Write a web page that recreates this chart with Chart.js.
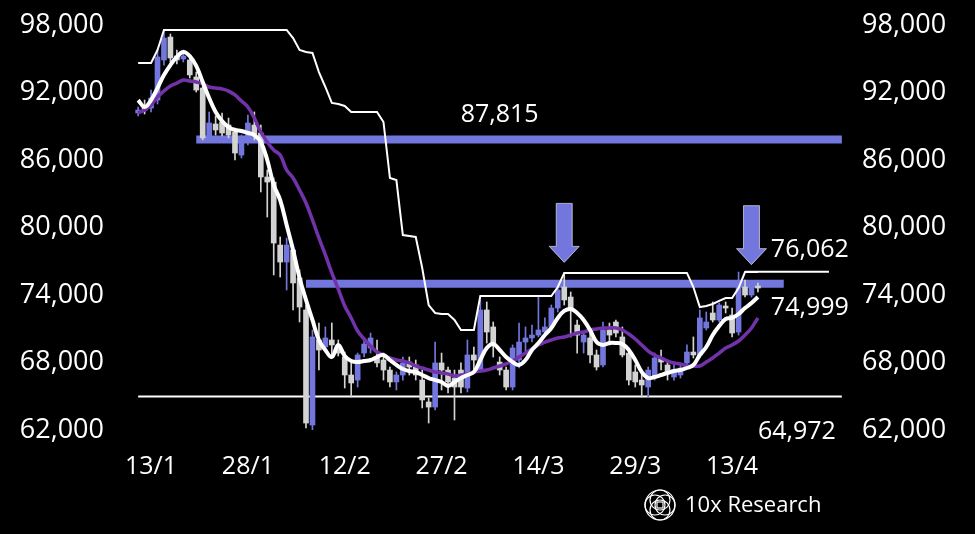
<!DOCTYPE html>
<html>
<head>
<meta charset="utf-8">
<script src="https://cdn.jsdelivr.net/npm/chart.js@4.4.0/dist/chart.umd.min.js"></script>
<style>
  html, body { margin: 0; padding: 0; background: #000; }
  canvas { display: block; }
</style>
</head>
<body>
<canvas id="leGraphique" width="975" height="534"></canvas>
<script>
// daily candles, 11/1 -> 17/4
const firstDay = Date.UTC(2025, 0, 11);
const dayCount = 97;
const padBefore = 2, padAfter = 15;   // empty days on each side of the candles
const tickLabels = ["13/1", "28/1", "12/2", "27/2", "14/3", "29/3", "13/4"];

const open = [90180, 90800, 90620, 91330, 94890, 96930, 95240, 94980, 94890, 93380,
  92400, 87960, 89200, 89380, 89110, 88490, 86440, 87780, 89110, 88400,
  84490, 84040, 78440, 76930, 78000, 75510, 72670, 62440, 70000, 69380,
  70000, 69380, 68490, 66890, 66440, 68840, 69290, 68490, 68220, 67330,
  66270, 66890, 68040, 67780, 66440, 64490, 64040, 67960, 67330, 66620,
  67330, 65730, 68670, 67330, 72670, 71160, 68040, 67330, 65820, 68220,
  69820, 70180, 70440, 70710, 71160, 72840, 74710, 73820, 71330, 69820,
  70180, 68670, 67780, 70890, 71600, 70270, 68840, 67160, 66440, 65820,
  66710, 68400, 67780, 66710, 66890, 67960, 68930, 68670, 71070, 72400,
  71780, 72930, 72220, 70710, 74710, 74000, 74710];
const close = [90440, 90440, 91510, 95160, 96840, 95070, 94890, 95240, 93560, 92220,
  87960, 89290, 88670, 88400, 88220, 86620, 87780, 89290, 88220, 84490,
  84040, 78620, 76930, 78440, 75070, 72930, 62620, 70270, 69110, 70180,
  69560, 68840, 66890, 66180, 68670, 69640, 70180, 67960, 67330, 66270,
  66890, 67960, 67600, 66890, 64670, 64040, 67960, 67330, 66270, 65820,
  65820, 68670, 68220, 72670, 70710, 69730, 67330, 65820, 69290, 69820,
  70180, 70440, 70890, 71160, 72840, 74440, 73560, 72840, 70440, 70440,
  68670, 67600, 70890, 70440, 70620, 68670, 66440, 66270, 66000, 67330,
  68400, 68040, 67070, 67330, 67510, 68930, 68670, 71960, 71600, 71780,
  73110, 72840, 70620, 75070, 74000, 74710, 74620];
const high = [90710, 91330, 92220, 95780, 97560, 97200, 95780, 95780, 95240, 93820,
  92670, 90270, 89910, 90180, 89730, 88840, 88220, 90000, 90270, 89110,
  85110, 84400, 79160, 79070, 78440, 76220, 73110, 70890, 71510, 71160,
  71510, 70000, 68930, 67960, 68840, 70000, 70620, 70000, 68840, 67600,
  67160, 68490, 68490, 68220, 67330, 64840, 69820, 68840, 67600, 67330,
  67960, 70000, 69380, 73560, 73380, 71600, 68490, 67600, 69560, 71510,
  71160, 71330, 73820, 71960, 73110, 74710, 75960, 74270, 71780, 70710,
  70620, 69110, 71600, 71510, 71780, 71160, 69110, 67780, 67330, 67600,
  68840, 69110, 68220, 67960, 67780, 69560, 70270, 72670, 72490, 73380,
  73290, 73380, 72840, 76040, 75330, 75070, 75070];
const low = [89910, 90090, 90270, 90980, 94440, 94710, 94530, 94710, 93290, 92040,
  87780, 87780, 88220, 88130, 87960, 86000, 86180, 87330, 87780, 83160,
  80930, 75780, 75600, 74440, 72670, 71600, 62180, 62000, 67330, 68930,
  68490, 68580, 65730, 64930, 65820, 68490, 68840, 67600, 66440, 65820,
  65560, 66440, 66890, 66440, 63960, 62620, 63780, 65560, 65290, 62890,
  65290, 65380, 67330, 67160, 69730, 68490, 66890, 65560, 65560, 67510,
  68840, 69820, 70270, 70440, 70890, 72490, 73110, 70270, 68840, 68840,
  67960, 67330, 67600, 69560, 70270, 68490, 66000, 65820, 64930, 64930,
  66440, 67330, 66440, 66440, 66620, 67510, 68400, 68400, 70890, 71600,
  71600, 72400, 70270, 70440, 73820, 73820, 74270];

// fast average (white) and slow average (purple)
const fastAvg = [91330, 90710, 91330, 92400, 93560, 94440, 95160, 95600, 95240, 94360,
  92930, 91510, 90270, 89470, 88930, 88670, 88580, 88400, 88220, 87600,
  86000, 83780, 82440, 80220, 78000, 75510, 73560, 71780, 70000, 69110,
  68490, 69560, 68580, 68130, 68040, 68130, 68220, 68490, 68670, 68220,
  67780, 67420, 67240, 67160, 66890, 66620, 66440, 66270, 65910, 66270,
  66620, 66890, 67160, 68220, 69290, 69640, 69110, 68490, 68040, 67780,
  68220, 69110, 69730, 70440, 71070, 71960, 72580, 72760, 72400, 71780,
  70890, 69820, 69560, 69730, 69730, 69640, 69110, 68220, 67160, 66620,
  66710, 66890, 67070, 67240, 67330, 67510, 67780, 68670, 69380, 70440,
  71240, 71870, 71960, 72310, 72840, 73290, 73820];
const slowAvg = [90180, 90440, 90890, 91600, 92130, 92580, 92840, 93110, 93020, 92930,
  92760, 92490, 92400, 92310, 92130, 91780, 91240, 90710, 89730, 88490,
  87600, 86890, 86440, 85110, 84400, 83330, 82180, 80670, 79070, 77560,
  75960, 74530, 73020, 71960, 70800, 70090, 69470, 68930, 68670, 68400,
  68220, 68130, 67960, 67690, 67510, 67330, 67160, 67070, 66980, 66800,
  66890, 66980, 67160, 67240, 67330, 67510, 67690, 67870, 68130, 68490,
  68840, 69200, 69560, 69820, 70000, 70180, 70270, 70440, 70620, 70710,
  70890, 70980, 71070, 71070, 71070, 70890, 70530, 70090, 69560, 69020,
  68670, 68400, 68130, 67960, 67870, 67690, 67690, 67690, 68040, 68400,
  68840, 69290, 69560, 69910, 70440, 71070, 71960];
// rolling high (thin white)
const rollHigh = [94620, 94620, 94620, 95780, 97560, 97560, 97560, 97560, 97560, 97560,
  97560, 97560, 97560, 97560, 97560, 97560, 97560, 97560, 97560, 97560,
  97560, 97560, 97560, 97560, 96840, 95780, 95600, 95510, 93820, 92490,
  91070, 90980, 90800, 90270, 90270, 90270, 90270, 90270, 89380, 84400,
  84220, 79330, 79240, 79160, 76400, 73110, 72400, 72310, 72310, 71780,
  70890, 70890, 70890, 73910, 73910, 73910, 73910, 73910, 73910, 73910,
  73910, 73910, 73910, 73910, 73910, 74710, 75960, 75960, 75960, 75960,
  75960, 75960, 75960, 75960, 75960, 75960, 75960, 75960, 75960, 75960,
  75960, 75960, 75960, 75960, 75960, 75960, 74710, 72930, 73020, 73200,
  73470, 73730, 73730, 74620, 76040, 76040, 76040];

// horizontal levels
const levelValues = [87815, 74999, 64972, 76062];
const levelFrom = ["20/1", "6/2", "11/1", "15/4"];
const levelTo = ["30/4", "21/4", "30/4", "28/4"];

// down arrows
const arrowDates = ["18/3", "16/4"];
const arrowTips = [76900, 76700];

const blue = '#7377dd';
const grey = '#d3d3d3';
const purple = '#7233aa';
const font = '"Open Sans", "DejaVu Sans", sans-serif';

function dayLabel(offset) {
  const d = new Date(firstDay + offset * 86400000);
  return d.getUTCDate() + '/' + (d.getUTCMonth() + 1);
}
const dates = [];
for (let k = 0; k < dayCount; k++) dates.push(dayLabel(k));
const axisLabels = [];
for (let k = -padBefore; k < dayCount + padAfter; k++) axisLabels.push(dayLabel(k));

const candleColor = open.map((o, k) => close[k] >= o ? blue : grey);
const fmt = v => v.toLocaleString('en-US');

function levelLine(k, color, width, order) {
  return {
    type: 'line',
    data: [{x: levelFrom[k], y: levelValues[k]}, {x: levelTo[k], y: levelValues[k]}],
    borderColor: color, borderWidth: width, borderCapStyle: 'butt',
    pointRadius: 0, order: order
  };
}

// texts, arrows and the 10x logo
const notes = {
  id: 'notes',
  afterDatasetsDraw(chart) {
    const {ctx, scales: {x, y}} = chart;
    ctx.save();
    arrowDates.forEach((d, k) => {
      const px = x.getPixelForValue(axisLabels.indexOf(d));
      const py = y.getPixelForValue(arrowTips[k]);
      ctx.beginPath();
      ctx.moveTo(px, py);
      ctx.lineTo(px - 15, py - 16);
      ctx.lineTo(px - 8, py - 16);
      ctx.lineTo(px - 8, py - 59);
      ctx.lineTo(px + 8, py - 59);
      ctx.lineTo(px + 8, py - 16);
      ctx.lineTo(px + 15, py - 16);
      ctx.closePath();
      ctx.fillStyle = blue;
      ctx.fill();
      ctx.strokeStyle = 'rgba(255,255,255,0.6)';
      ctx.lineWidth = 1;
      ctx.stroke();
    });

    ctx.fillStyle = '#fff';
    ctx.font = '25px ' + font;
    ctx.textBaseline = 'middle';
    const spots = [
      {at: "8/3", dy: -25, align: 'center'},
      {at: "19/4", dy: 24, align: 'left'},
      {at: "17/4", dy: 35, align: 'left'},
      {at: "19/4", dy: -22, align: 'left'}
    ];
    spots.forEach((s, k) => {
      ctx.textAlign = s.align;
      ctx.fillText(fmt(levelValues[k]), x.getPixelForValue(axisLabels.indexOf(s.at)),
        y.getPixelForValue(levelValues[k]) + s.dy);
    });

    // watermark
    const cx = 660, cy = 505;
    ctx.strokeStyle = '#fff';
    ctx.lineWidth = 1.2;
    ctx.beginPath(); ctx.arc(cx, cy, 15, 0, Math.PI * 2); ctx.stroke();
    [[-5, 0], [5, 0], [0, -5], [0, 5]].forEach(([dx, dy]) => {
      ctx.beginPath(); ctx.arc(cx + dx, cy + dy, 10, 0, Math.PI * 2); ctx.stroke();
    });
    ctx.strokeRect(cx - 3, cy - 3, 6, 6);
    ctx.textAlign = 'left';
    ctx.font = '22px ' + font;
    ctx.fillText('10x Research', 685, cy + 1);
    ctx.restore();
  }
};

const ctx = document.getElementById('leGraphique');

const data = {
  labels: axisLabels,
  datasets: [
    levelLine(0, blue, 8, 10),
    levelLine(1, blue, 8, 10),
    levelLine(2, '#fff', 2, 10),
    levelLine(3, '#fff', 2, 3),
    {
      type: 'bar',
      data: dates.map((d, k) => ({x: d, y: [low[k], high[k]]})),
      backgroundColor: candleColor,
      barThickness: 1, grouped: false, order: 9
    },
    {
      type: 'bar',
      data: dates.map((d, k) => ({x: d, y: [open[k], close[k]]})),
      backgroundColor: candleColor,
      barThickness: 5, minBarLength: 2, grouped: false, order: 8
    },
    {
      type: 'line',
      data: dates.map((d, k) => ({x: d, y: slowAvg[k]})),
      borderColor: purple, borderWidth: 3.5, pointRadius: 0, tension: 0.4, order: 5
    },
    {
      type: 'line',
      data: dates.map((d, k) => ({x: d, y: fastAvg[k]})),
      borderColor: '#fff', borderWidth: 4, pointRadius: 0, tension: 0.4, order: 4
    },
    {
      type: 'line',
      data: dates.map((d, k) => ({x: d, y: rollHigh[k]})),
      borderColor: '#fff', borderWidth: 2, pointRadius: 0, tension: 0, order: 3
    }
  ]
};

const yTicks = (pad) => ({
  color: '#fff', padding: pad, stepSize: 6000,
  font: {family: font, size: 27},
  callback: v => fmt(v)
});
// fixed axis widths, no extra padding from the tick labels
const fitY = w => s => { s.width = w; s.paddingTop = 0; s.paddingBottom = 0; };

const config = {
  type: 'bar',
  data: data,
  options: {
    responsive: false,
    animation: false,
    devicePixelRatio: 1,
    layout: {padding: {top: 25, left: 0, right: 0, bottom: 0}},
    plugins: {legend: {display: false}, tooltip: {enabled: false}},
    scales: {
      x: {
        type: 'category', offset: true,
        grid: {display: false, drawTicks: false}, border: {display: false},
        ticks: {color: '#fff', font: {family: font, size: 25}, padding: 22,
          autoSkip: false, maxRotation: 0, minRotation: 0},
        afterBuildTicks: s => { s.ticks = s.ticks.filter(t => tickLabels.includes(axisLabels[t.value])); },
        afterFit: s => { s.height = 104; }
      },
      y: {
        position: 'left', min: 62000, max: 98000,
        grid: {display: false, drawTicks: false}, border: {display: false},
        ticks: yTicks(18),
        afterFit: fitY(122)
      },
      y2: {
        position: 'right', min: 62000, max: 98000,
        grid: {display: false, drawTicks: false}, border: {display: false},
        ticks: yTicks(4),
        afterFit: fitY(117)
      }
    }
  },
  plugins: [notes]
};

const myChart = new Chart(ctx, config);
</script>
</body>
</html>
